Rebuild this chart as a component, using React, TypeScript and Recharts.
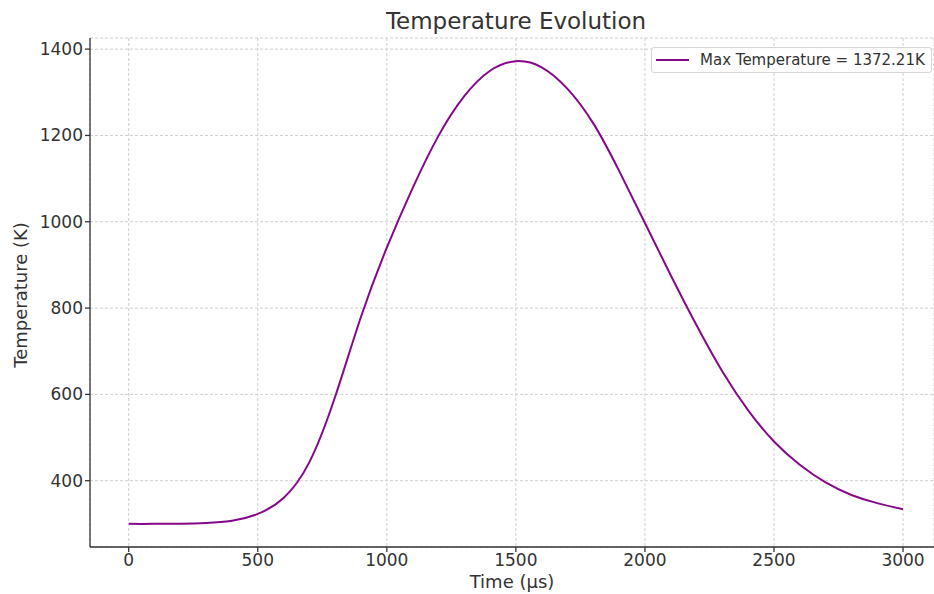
import React from "react"
import { LineChart, Line, XAxis, YAxis, CartesianGrid } from "recharts"

const times = [
  0, 100, 200, 300, 400, 500, 600, 700, 800, 900, 1000, 1100, 1200, 1300, 1400, 1500, 1600, 1700,
  1800, 1900, 2000, 2100, 2200, 2300, 2400, 2500, 2600, 2700, 2800, 2900, 3000,
]
const temps = [
  300, 300, 300.5, 302, 307, 323, 360, 443, 595, 780, 940, 1078, 1199, 1291, 1350, 1372, 1358, 1308,
  1228, 1118, 997, 876, 760, 653, 563, 491, 437, 396, 367, 348, 334,
]
const xTicks = [0, 500, 1000, 1500, 2000, 2500, 3000]
const yTicks = [400, 600, 800, 1000, 1200, 1400]
const legendLabel = "Max Temperature = 1372.21K"

const data = times.map((t, i) => ({ time: t, temp: temps[i] }))

const FONT = "'DejaVu Sans', sans-serif"
const TEXT = "#333"
const LINE = "#86088a"

function LegendBox() {
  return (
    <div
      style={{
        position: "absolute",
        left: 651,
        top: 47,
        display: "flex",
        alignItems: "center",
        height: 26,
        width: 281,
        boxSizing: "border-box",
        border: "1px solid #d6d6d6",
        borderRadius: 3,
        background: "rgba(255,255,255,0.85)",
        fontFamily: FONT,
        fontSize: 15,
        color: TEXT,
      }}
    >
      <span style={{ display: "inline-block", width: 33, height: 2, background: LINE, marginLeft: 4, marginRight: 11 }} />
      <span style={{ whiteSpace: "nowrap" }}>{legendLabel}</span>
    </div>
  )
}

export default function App() {
  return (
    <div style={{ position: "absolute", left: 0, top: 0, width: 934, height: 594, background: "#fff" }}>
      <LineChart width={934} height={594} data={data} margin={{ top: 38, right: 0, bottom: 0, left: 0 }}>
        <CartesianGrid stroke="#cfcfcf" strokeDasharray="3 2" />
        <XAxis
          type="number"
          dataKey="time"
          domain={[-150, 3120]}
          ticks={xTicks}
          allowDataOverflow
          height={47}
          tickSize={5}
          stroke="#333"
          strokeWidth={1.3}
          tick={{ fill: TEXT, fontSize: 17, fontFamily: FONT }}
          label={{ value: "Time (µs)", position: "insideBottom", offset: 6, fill: TEXT, fontSize: 18, fontFamily: FONT }}
        />
        <YAxis
          type="number"
          domain={[246.4, 1425.8]}
          ticks={yTicks}
          allowDataOverflow
          width={90}
          tickSize={5}
          stroke="#333"
          strokeWidth={1.3}
          tick={{ fill: TEXT, fontSize: 17, fontFamily: FONT }}
        />
        <Line type="natural" dataKey="temp" stroke={LINE} strokeWidth={2} dot={false} isAnimationActive={false} />
      </LineChart>
      <LegendBox />
      <svg width={934} height={594} style={{ position: "absolute", left: 0, top: 0, pointerEvents: "none" }}>
        <text x={516} y={29} textAnchor="middle" fontFamily={FONT} fontSize={23} fill={TEXT}>
          Temperature Evolution
        </text>
        <text
          x={27}
          y={295}
          textAnchor="middle"
          fontFamily={FONT}
          fontSize={18}
          fill={TEXT}
          transform="rotate(-90 27 295)"
        >
          Temperature (K)
        </text>
      </svg>
    </div>
  )
}
